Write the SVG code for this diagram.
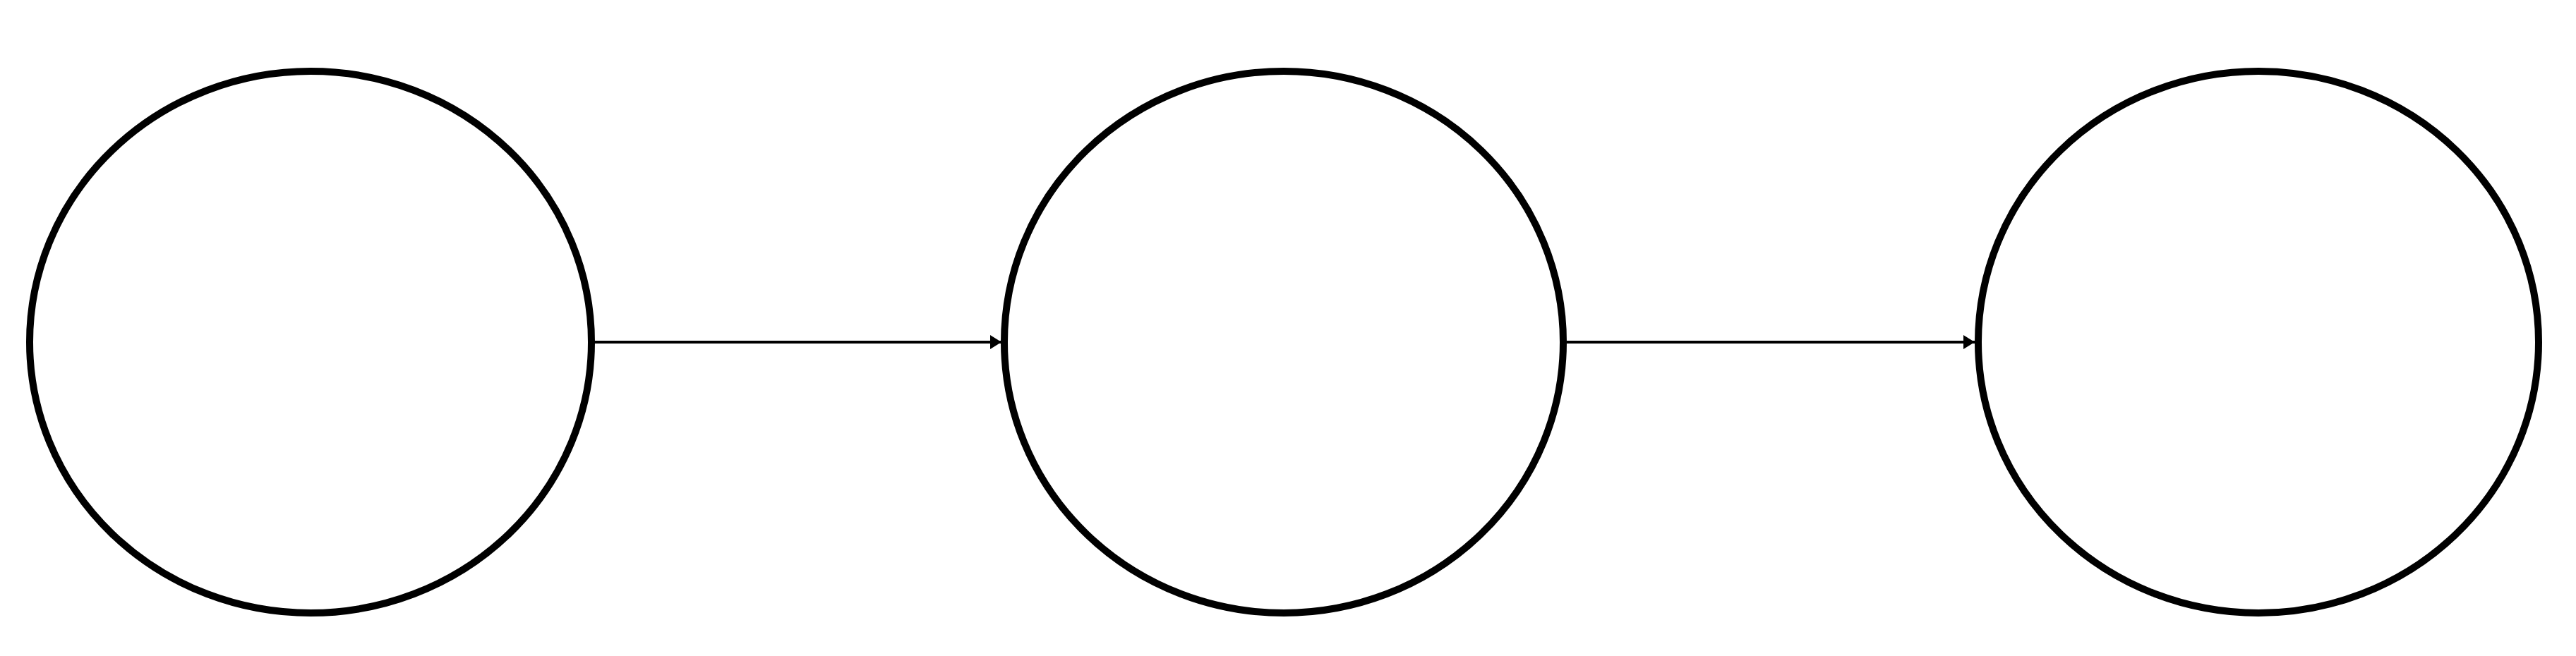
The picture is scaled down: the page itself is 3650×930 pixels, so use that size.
<svg xmlns="http://www.w3.org/2000/svg" width="3650" height="930" viewBox="0 0 3650 930">
<defs>
<style>
.node{fill:#fff;stroke:#000;stroke-width:10}
.edge{stroke:#000;stroke-width:4;fill:none}
</style>
<marker id="arr" markerUnits="userSpaceOnUse" markerWidth="16" markerHeight="20" refX="16" refY="10" orient="auto">
<path d="M0,0 L16,10 L0,20 Z" fill="#000"/>
</marker>
</defs>
<rect width="3650" height="930" fill="#fff"/>
<g id="n1"><ellipse class="node" cx="440" cy="485" rx="398" ry="384"/></g>
<g id="n2"><ellipse class="node" cx="1819" cy="485" rx="396" ry="384"/></g>
<g id="n3"><ellipse class="node" cx="3200" cy="485" rx="397" ry="384"/></g>
<g id="edges">
<line class="edge" x1="840" y1="485" x2="1419" y2="485" marker-end="url(#arr)"/>
<line class="edge" x1="2220" y1="485" x2="2798" y2="485" marker-end="url(#arr)"/>
</g>
</svg>
